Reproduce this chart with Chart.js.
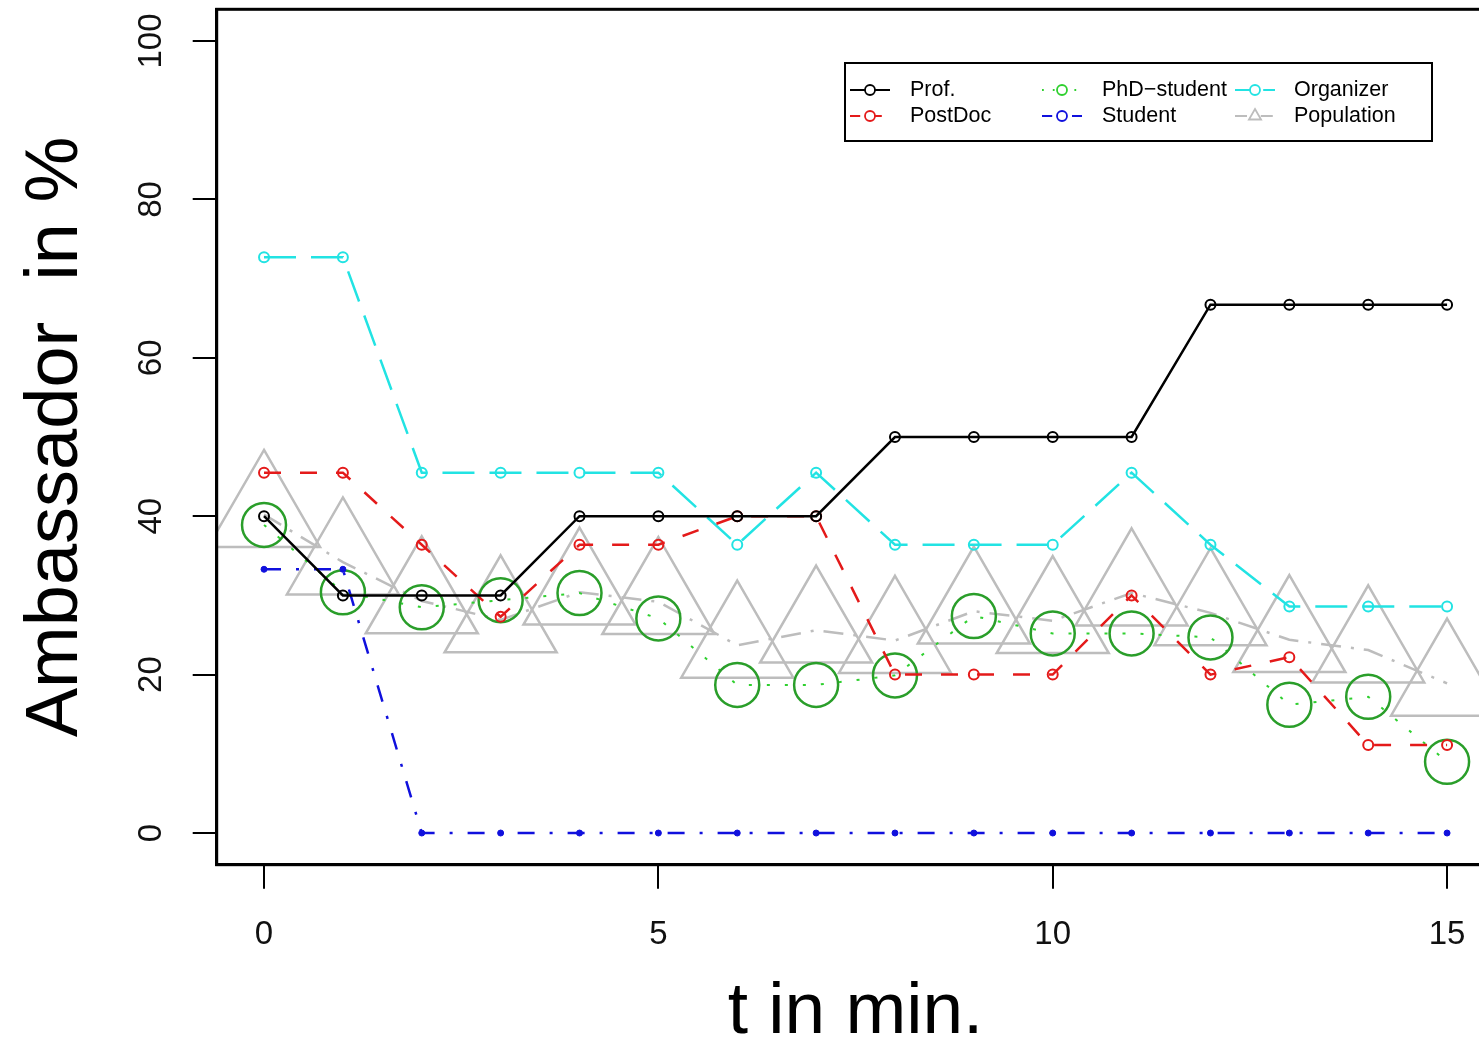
<!DOCTYPE html>
<html><head><meta charset="utf-8">
<script src="https://cdn.jsdelivr.net/npm/chart.js@4.4.1/dist/chart.umd.min.js"></script>
<style>
html,body{margin:0;padding:0;overflow:hidden;background:#fff;width:1479px;height:1040px}
#wrap{position:absolute;left:0;top:0;width:1520px;height:1040px}
</style>
</head><body>
<div id="wrap"><canvas id="c" width="1520" height="1040"></canvas></div>
<script>
// ---- data ----
const times = [0,1,2,3,4,5,6,7,8,9,10,11,12,13,14,15];
const prof = [40,30,30,30,40,40,40,40,50,50,50,50,66.7,66.7,66.7,66.7];
const postDoc = [45.5,45.5,36.4,27.3,36.4,36.4,40,40,20,20,20,30,20,22.2,11.1,11.1];
const phdStudent = [38.9,30.4,28.5,29.4,30.3,27.1,18.7,18.7,19.9,27.4,25.2,25.2,24.7,16.2,17.2,9.0];
const student = [33.3,33.3,0,0,0,0,0,0,0,0,0,0,0,0,0,0];
const organizer = [72.7,72.7,45.5,45.5,45.5,45.5,36.4,45.5,36.4,36.4,36.4,45.5,36.4,28.6,28.6,28.6];
const population = [40.2,34.2,29.3,26.9,30.4,29.2,23.7,25.6,24.3,28.0,26.8,30.3,27.8,24.4,23.1,18.9];
const xTicks = [0,5,10,15];
const yTicks = [0,20,40,60,80,100];
const seriesNames = ['Prof.','PostDoc','PhD\u2212student','Student','Organizer','Population'];

// ---- styles ----
const FONT = "'Liberation Sans', Arial, Helvetica, sans-serif";
const C = {prof:'#000000', post:'#e41a1a', phdLine:'#2fd02f', phdPt:'#2a9e2a', stud:'#1010dd', org:'#22e3e3', pop:'#bdbdbd'};
const D = {prof:[], post:[17,19], phd:[3,15], stud:[17,15,3,15], org:[32,15], pop:[20,10,3,10]};

const pts = arr => times.map((t,i)=>({x:t, y:arr[i]}));

const datasets = [
  {label:seriesNames[0], data:pts(prof), borderColor:C.prof, borderWidth:2.5, borderDash:D.prof,
   pointStyle:'circle', pointRadius:5, pointBorderWidth:2, pointBorderColor:C.prof, pointBackgroundColor:'rgba(0,0,0,0)'},
  {label:seriesNames[1], data:pts(postDoc), borderColor:C.post, borderWidth:2.5, borderDash:D.post,
   pointStyle:'circle', pointRadius:5, pointBorderWidth:2, pointBorderColor:C.post, pointBackgroundColor:'rgba(0,0,0,0)'},
  {label:seriesNames[4], data:pts(organizer), borderColor:C.org, borderWidth:2.5, borderDash:D.org,
   pointStyle:'circle', pointRadius:5, pointBorderWidth:2, pointBorderColor:C.org, pointBackgroundColor:'rgba(0,0,0,0)'},
  {label:seriesNames[3], data:pts(student), borderColor:C.stud, borderWidth:2.5, borderDash:D.stud,
   pointStyle:'circle', pointRadius:3, pointBorderWidth:1, pointBorderColor:C.stud, pointBackgroundColor:C.stud},
  {label:seriesNames[2], data:pts(phdStudent), borderColor:C.phdLine, borderWidth:2, borderDash:D.phd,
   pointStyle:'circle', pointRadius:22, pointBorderWidth:2.5, pointBorderColor:C.phdPt, pointBackgroundColor:'rgba(0,0,0,0)'},
  {label:seriesNames[5], data:pts(population), borderColor:C.pop, borderWidth:2.5, borderDash:D.pop,
   pointStyle:'triangle', pointRadius:64.7, pointBorderWidth:2.5, pointBorderColor:C.pop, pointBackgroundColor:'rgba(0,0,0,0)'}
];
datasets.forEach(d=>{d.fill=false; d.tension=0; d.clip=0; d.pointHoverRadius=d.pointRadius;});

const legendItems = [
  {name:seriesNames[0], color:C.prof, pt:C.prof, dash:D.prof, style:'circle', col:0, row:0},
  {name:seriesNames[1], color:C.post, pt:C.post, dash:D.post, style:'circle', col:0, row:1},
  {name:seriesNames[2], color:C.phdLine, pt:C.phdLine, dash:D.phd, style:'circle', col:1, row:0},
  {name:seriesNames[3], color:C.stud, pt:C.stud, dash:D.stud, style:'circle', col:1, row:1},
  {name:seriesNames[4], color:C.org, pt:C.org, dash:D.org, style:'circle', col:2, row:0},
  {name:seriesNames[5], color:C.pop, pt:C.pop, dash:D.pop, style:'triangle', col:2, row:1}
];

const frameAndLegend = {
  id:'frameAndLegend',
  afterDraw(chart){
    const ctx = chart.ctx, a = chart.chartArea;
    ctx.save();
    ctx.strokeStyle = '#000'; ctx.lineWidth = 3; ctx.setLineDash([]);
    ctx.strokeRect(a.left, a.top, a.right - a.left, a.bottom - a.top);
    // legend box
    const bx = 845, by = 63, bw = 587, bh = 78;
    ctx.fillStyle = '#fff'; ctx.fillRect(bx, by, bw, bh);
    ctx.lineWidth = 2; ctx.strokeRect(bx, by, bw, bh);
    const colX = [850, 1042, 1235], textX = [910, 1102, 1294], rowY = [90, 116];
    ctx.font = '21.5px ' + FONT; ctx.textBaseline = 'middle'; ctx.textAlign = 'left';
    legendItems.forEach(it=>{
      const x0 = colX[it.col], y = rowY[it.row], x1 = x0 + 40, xm = x0 + 20;
      ctx.strokeStyle = it.color; ctx.lineWidth = 2; ctx.setLineDash(it.dash.map(v=>v*0.6));
      ctx.beginPath(); ctx.moveTo(x0, y); ctx.lineTo(x1, y); ctx.stroke();
      ctx.setLineDash([]);
      ctx.fillStyle = '#fff'; ctx.strokeStyle = it.pt; ctx.lineWidth = 1.8;
      if (it.style === 'circle') {
        ctx.beginPath(); ctx.arc(xm, y, 5, 0, Math.PI*2); ctx.fill(); ctx.stroke();
      } else {
        const r = 7;
        ctx.beginPath(); ctx.moveTo(xm, y - r);
        ctx.lineTo(xm + r*0.866, y + r/2); ctx.lineTo(xm - r*0.866, y + r/2); ctx.closePath();
        ctx.fill(); ctx.stroke();
      }
      ctx.fillStyle = '#000';
      ctx.fillText(it.name, textX[it.col], y);
    });
    ctx.restore();
  }
};

const zeroPad = s => { s.paddingTop = 0; s.paddingBottom = 0; s.paddingLeft = 0; s.paddingRight = 0; };

new Chart(document.getElementById('c'), {
  type:'line',
  data:{datasets},
  plugins:[frameAndLegend],
  options:{
    responsive:false, animation:false,
    layout:{autoPadding:false, padding:{top:9.3, right:25.6, left:0, bottom:0}},
    plugins:{legend:{display:false}, tooltip:{enabled:false}},
    scales:{
      x:{
        type:'linear', min:-0.6, max:15.6,
        afterBuildTicks: s => { s.ticks = xTicks.map(v=>({value:v})); },
        afterFit: s => { s.height = 175.3; zeroPad(s); },
        grid:{drawOnChartArea:false, drawTicks:true, tickLength:24, color:'#000', lineWidth:2},
        border:{display:true, color:'#000', width:3},
        ticks:{color:'#111', font:{family:FONT, size:33}, padding:26, maxRotation:0, minRotation:0},
        title:{display:true, text:'t in min.', color:'#000', font:{family:FONT, size:73, lineHeight:0.75}, padding:{top:0,bottom:0}}
      },
      y:{
        type:'linear', min:-4, max:104,
        afterBuildTicks: s => { s.ticks = yTicks.map(v=>({value:v})); },
        afterFit: s => { s.width = 216.7; zeroPad(s); },
        grid:{drawOnChartArea:false, drawTicks:true, tickLength:24, color:'#000', lineWidth:2},
        border:{display:true, color:'#000', width:3},
        ticks:{color:'#111', font:{family:FONT, size:33}, padding:13, minRotation:90, maxRotation:90, crossAlign:'center'},
        title:{display:true, text:'Ambassador  in %', color:'#000', font:{family:FONT, size:74, lineHeight:1}, padding:{top:20,bottom:0}}
      }
    }
  }
});
</script>
</body></html>
